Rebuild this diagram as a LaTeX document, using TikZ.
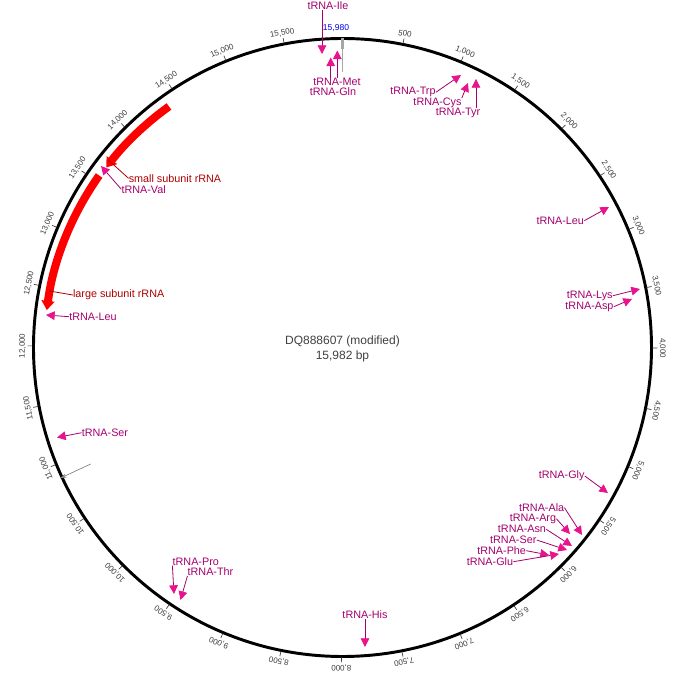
\documentclass[tikz,border=0pt]{standalone}
\usepackage{fontspec}
\setmainfont{Liberation Sans}
\usetikzlibrary{arrows.meta}
\definecolor{trnatext}{RGB}{165,0,110}
\definecolor{trnahead}{RGB}{232,20,140}
\definecolor{rrnatext}{RGB}{175,0,0}
\definecolor{rrnared}{RGB}{255,0,0}
\definecolor{ticktext}{RGB}{60,60,60}
\definecolor{posblue}{RGB}{0,0,230}
\tikzset{
  trnalabel/.style={font=\fontsize{8.1}{9}\selectfont, text=trnatext, inner sep=0pt},
  rrnalabel/.style={font=\fontsize{8.1}{9}\selectfont, text=rrnatext, inner sep=0pt},
  trnaline/.style={draw=trnatext, line width=0.6pt, -{Triangle[length=6.5pt,width=6.5pt,color=trnahead]}},
  rrnaline/.style={draw=rrnatext, line width=0.6pt},
  rrnabar/.style={draw=rrnared, line width=6pt, -{Triangle[length=7pt,width=9.5pt]}},
  ticklabel/.style={font=\fontsize{6}{7}\selectfont, text=ticktext, inner sep=0pt},
  centertext/.style={font=\fontsize{9}{10}\selectfont, text=black!75, inner sep=0pt}
}
\begin{document}
\begin{tikzpicture}[x=0.75pt,y=0.75pt]
  \useasboundingbox (-342.5,-336.5) rectangle (343.5,347.5);

  % Genoma circular
  \draw[line width=2.2pt] (0,0) circle[radius=309];

  % Marcas de posicion cada 500 bp
  \foreach \p/\t in {500/500, 1000/{1,000}, 1500/{1,500}, 2000/{2,000}, 2500/{2,500},
                     3000/{3,000}, 3500/{3,500}, 4000/{4,000}, 4500/{4,500}, 5000/{5,000},
                     5500/{5,500}, 6000/{6,000}, 6500/{6,500}, 7000/{7,000}, 7500/{7,500},
                     8000/{8,000}, 8500/{8,500}, 9000/{9,000}, 9500/{9,500}, 10000/{10,000},
                     10500/{10,500}, 11000/{11,000}, 11500/{11,500}, 12000/{12,000},
                     12500/{12,500}, 13000/{13,000}, 13500/{13,500}, 14000/{14,000},
                     14500/{14,500}, 15000/{15,000}, 15500/{15,500}} {
    \pgfmathsetmacro\ang{90-\p/15982*360}
    \draw[line width=0.5pt, ticktext] (\ang:310) -- (\ang:315);
    \node[ticklabel, rotate=\ang-90] at (\ang:320) {\t};
  }

  % Marca del final de la secuencia
  \draw[gray!70, line width=2.2pt] (0.2,298.5) -- (0.2,309.5);
  \draw[gray!70, line width=0.6pt] (0.2,298.5) -- (0.2,275.5);
  \node[ticklabel, text=posblue, font=\fontsize{6.4}{7}\selectfont] (pos) at (-6.5,319.5) {15,980};

  % Titulo
  \node[centertext] (titulo) at (0,6.5) {DQ888607 (modified)};
  \node[centertext] (largo) at (0,-8.5) {15,982 bp};

  % ARN ribosomicos
  \draw[rrnabar] (125.75:297) arc[start angle=125.75, end angle=142.7, radius=297];
  \draw[rrnabar] (144.75:298) arc[start angle=144.75, end angle=172.8, radius=298];
  \coordinate (fSSU) at (-234.2,187.5);
  \coordinate (fLSU) at (-293.2,56.5);
  \node[rrnalabel] (lSSU) at (-167.5,169.2) {small subunit rRNA};
  \node[rrnalabel] (lLSU) at (-223.8,52.5) {large subunit rRNA};
  \draw[rrnaline] (lSSU.west) -- (fSSU);
  \draw[rrnaline] (lLSU.west) -- (fLSU);

  % Linea gris sin etiqueta
  \coordinate (gA) at (-251.8,-116.5);
  \coordinate (gB) at (-282.5,-130.8);
  \draw[gray, line width=0.5pt, -{Stealth[length=5pt,width=3pt]}] (gA) -- (gB);

  % ARN de transferencia (arriba)
  \coordinate (fIle) at (-20.5,293.5);
  \coordinate (fMet) at (-5.2,297);
  \coordinate (fGln) at (-11.8,290);
  \node[trnalabel] (lIle) at (-14.5,341.5) {tRNA-Ile};
  \node[trnalabel] (lMet) at (-5.5,265.5) {tRNA-Met};
  \node[trnalabel] (lGln) at (-9.5,255.5) {tRNA-Gln};
  \draw[trnaline] (lIle.south -| fIle) -- (fIle);
  \draw[trnaline] (lMet.north -| fMet) -- (fMet);
  \draw[trnaline] (lMet.north -| fGln) -- (fGln);

  \coordinate (fTrp) at (118.5,272.5);
  \coordinate (fCys) at (125.5,264.5);
  \coordinate (fTyr) at (133.5,268.5);
  \node[trnalabel] (lTrp) at (70.5,255.2) {tRNA-Trp};
  \node[trnalabel] (lCys) at (95,244.2) {tRNA-Cys};
  \node[trnalabel] (lTyr) at (115.5,234.8) {tRNA-Tyr};
  \draw[trnaline] (lTrp.east) -- (fTrp);
  \draw[trnaline] (lCys.north east) -- (fCys);
  \draw[trnaline] (lTyr.north -| fTyr) -- (fTyr);

  % ARN de transferencia (derecha)
  \coordinate (fLeuR) at (266.5,140.5);
  \coordinate (fLys) at (297.5,58.5);
  \coordinate (fAsp) at (289.5,48.5);
  \node[trnalabel] (lLeuR) at (217.8,126.8) {tRNA-Leu};
  \node[trnalabel] (lLys) at (247.2,51.8) {tRNA-Lys};
  \node[trnalabel] (lAsp) at (247,40.8) {tRNA-Asp};
  \draw[trnaline] (lLeuR.east) -- (fLeuR);
  \draw[trnaline] (lLys.east) -- (fLys);
  \draw[trnaline] (lAsp.east) -- (fAsp);

  % ARN de transferencia (abajo a la derecha)
  \coordinate (fGly) at (265.5,-145.5);
  \coordinate (fAla) at (239.5,-187.5);
  \coordinate (fArg) at (227.5,-186.5);
  \coordinate (fAsn) at (229.5,-198.5);
  \coordinate (fSer) at (224.5,-202.5);
  \coordinate (fPhe) at (206.5,-207.5);
  \coordinate (fGlu) at (216.5,-206.5);
  \node[trnalabel] (lGly) at (219.2,-128.5) {tRNA-Gly};
  \node[trnalabel] (lAla) at (199.2,-160.2) {tRNA-Ala};
  \node[trnalabel] (lArg) at (190.5,-171.2) {tRNA-Arg};
  \node[trnalabel] (lAsn) at (179.5,-181.8) {tRNA-Asn};
  \node[trnalabel] (lSer) at (170.8,-192.5) {tRNA-Ser};
  \node[trnalabel] (lPhe) at (159.2,-203.2) {tRNA-Phe};
  \node[trnalabel] (lGlu) at (147.5,-214.2) {tRNA-Glu};
  \draw[trnaline] (lGly.east) -- (fGly);
  \draw[trnaline] (lAla.east) -- (fAla);
  \draw[trnaline] (lArg.east) -- (fArg);
  \draw[trnaline] (lAsn.east) -- (fAsn);
  \draw[trnaline] (lSer.east) -- (fSer);
  \draw[trnaline] (lPhe.east) -- (fPhe);
  \draw[trnaline] (lGlu.east) -- (fGlu);

  % ARN de transferencia (abajo)
  \coordinate (fHis) at (22.5,-299.5);
  \coordinate (fPro) at (-168.5,-246.5);
  \coordinate (fThr) at (-162,-252.5);
  \node[trnalabel] (lHis) at (22.5,-266.8) {tRNA-His};
  \node[trnalabel] (lPro) at (-146.7,-214.2) {tRNA-Pro};
  \node[trnalabel] (lThr) at (-132,-224.2) {tRNA-Thr};
  \draw[trnaline] (lHis.south -| fHis) -- (fHis);
  \draw[trnaline] (lPro.south west) -- (fPro);
  \draw[trnaline] (lThr.south west) -- (fThr);

  % ARN de transferencia (izquierda)
  \coordinate (fSerL) at (-285.5,-90);
  \coordinate (fLeuL) at (-296.5,32.5);
  \coordinate (fVal) at (-241.5,181.5);
  \node[trnalabel] (lSerL) at (-237.5,-85.2) {tRNA-Ser};
  \node[trnalabel] (lLeuL) at (-249.5,30.8) {tRNA-Leu};
  \node[trnalabel] (lVal) at (-198.8,158.2) {tRNA-Val};
  \draw[trnaline] (lSerL.west) -- (fSerL);
  \draw[trnaline] (lLeuL.west) -- (fLeuL);
  \draw[trnaline] (lVal.west) -- (fVal);
\end{tikzpicture}
\end{document}
